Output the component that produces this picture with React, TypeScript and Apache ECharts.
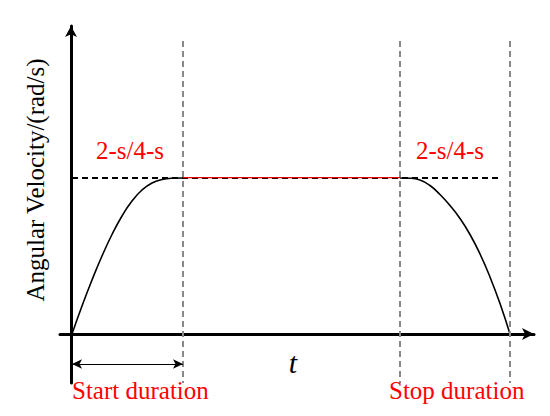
import React, { useEffect, useRef } from "react";
import * as echarts from "echarts";

// Units: x = time (relative units), y = angular velocity (relative units)
const riseX = [1, 11, 21, 31, 41, 51, 61, 71, 81, 91, 101, 112];
const riseY = [0, 28, 54, 78, 99.5, 118, 133, 144, 151, 154.5, 155.8, 156];
const fallX = [329, 339, 349, 359, 369, 379, 389, 399, 409, 419, 429, 439];
const fallY = [156, 155.8, 154, 148.5, 139.5, 128.5, 115.5, 99.5, 80, 57, 30.5, 0];
const plateau = 156;
const startEnd = 112;
const stopStart = 329;
const stopEnd = 439;
const guideTop = 293;
const guideBottom = -49;
const refLineStart = 1;
const refLineEnd = 431;
const spanY = -30;
const spanStart = 1;

const durationLabels = ["2-s/4-s", "2-s/4-s"];
const phaseLabels = ["Start duration", "Stop duration"];
const yAxisTitle = "Angular Velocity/(rad/s)";
const xAxisTitle = "t";

const SERIF = "Liberation Serif";

export default function App() {
  const ref = useRef<HTMLDivElement>(null);
  useEffect(() => {
    if (!ref.current) return;
    const chart = echarts.init(ref.current, undefined, { renderer: "svg" });
    const pair = (xs: number[], ys: number[]) => xs.map((x, i) => [x, ys[i]]);
    const guides = [startEnd, stopStart, stopEnd].map((x) => [
      { coord: [x, guideTop] },
      { coord: [x, guideBottom] },
    ]);
    const txt = (
      x: number,
      y: number,
      text: string,
      color: string,
      align: string,
      size = 25,
      extra: any = {}
    ) => ({
      type: "text",
      x,
      y,
      rotation: extra.rotation || 0,
      style: {
        text,
        fontFamily: SERIF,
        fontSize: size,
        fontStyle: extra.italic ? "italic" : "normal",
        fill: color,
        align,
        verticalAlign: "middle",
      },
    });
    chart.setOption({
      animation: false,
      grid: { left: 60, right: 16, top: 26, bottom: 33 },
      xAxis: {
        type: "value",
        min: -11,
        max: 463,
        axisLine: {
          onZero: true,
          symbol: ["none", "arrow"],
          symbolSize: [9, 12],
          lineStyle: { color: "#000", width: 3 },
        },
        axisTick: { show: false },
        axisLabel: { show: false },
        splitLine: { show: false },
      },
      yAxis: {
        type: "value",
        min: -49,
        max: 308,
        axisLine: {
          onZero: true,
          symbol: ["none", "arrow"],
          symbolSize: [9, 11],
          lineStyle: { color: "#000", width: 3 },
        },
        axisTick: { show: false },
        axisLabel: { show: false },
        splitLine: { show: false },
      },
      series: [
        {
          type: "line",
          data: [],
          silent: true,
          markLine: {
            silent: true,
            symbol: "none",
            label: { show: false },
            lineStyle: { color: "#888", width: 2, type: [6, 4] },
            data: guides,
          },
        },
        {
          type: "line",
          data: [
            [refLineStart, plateau],
            [refLineEnd, plateau],
          ],
          showSymbol: false,
          silent: true,
          lineStyle: { color: "#000", width: 2, type: [6, 4] },
        },
        {
          type: "line",
          data: [
            [startEnd, plateau + 0.3],
            [stopStart, plateau + 0.3],
          ],
          showSymbol: false,
          silent: true,
          lineStyle: { color: "#e00000", width: 1.3 },
        },
        {
          type: "line",
          data: pair(riseX, riseY),
          smooth: 0.5,
          showSymbol: false,
          silent: true,
          lineStyle: { color: "#000", width: 1.6 },
        },
        {
          type: "line",
          data: pair(fallX, fallY),
          smooth: 0.5,
          showSymbol: false,
          silent: true,
          lineStyle: { color: "#000", width: 1.6 },
        },
        {
          type: "line",
          data: [],
          silent: true,
          markLine: {
            silent: true,
            symbol: ["arrow", "arrow"],
            symbolSize: [7, 10],
            label: { show: false },
            lineStyle: { color: "#000", width: 1, type: "solid" },
            data: [[{ coord: [spanStart, spanY] }, { coord: [startEnd, spanY] }]],
          },
        },
      ],
      graphic: [
        txt(35, 180, yAxisTitle, "#000", "center", 25, { rotation: Math.PI / 2 }),
        txt(130, 150, durationLabels[0], "#ff0000", "center"),
        txt(450, 150, durationLabels[1], "#ff0000", "center"),
        txt(72, 390, phaseLabels[0], "#ff0000", "left"),
        txt(389, 390, phaseLabels[1], "#ff0000", "left"),
        txt(293, 362, xAxisTitle, "#000", "center", 30, { italic: true }),
      ],
    });
    return () => chart.dispose();
  }, []);
  return (
    <div
      ref={ref}
      style={{ position: "fixed", left: 0, top: 0, width: 550, height: 416, background: "#fff" }}
    />
  );
}
